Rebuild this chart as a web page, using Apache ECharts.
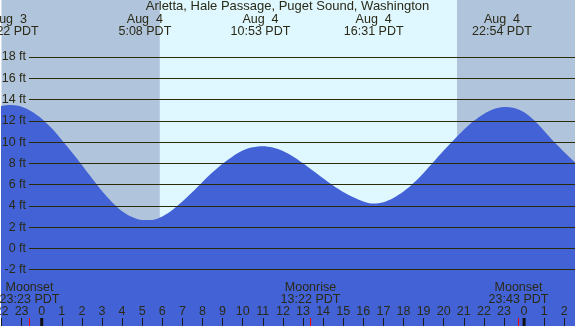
<!DOCTYPE html>
<html>
<head>
<meta charset="utf-8">
<script src="https://cdn.jsdelivr.net/npm/echarts@6/dist/echarts.min.js"></script>
<style>
  html, body { margin: 0; padding: 0; background: #fff; }
  #chart { width: 575px; height: 326px; }
</style>
</head>
<body>
<div id="chart"></div>
<script>
// hours counted from Aug 4 00:00 PDT, read every half hour
const tideTimes = [
  -2.5, -2, -1.5, -1, -0.5, 0, 0.5, 1, 1.5, 2, 2.5, 3, 3.5, 4, 4.5, 5, 5.5,
  6, 6.5, 7, 7.5, 8, 8.5, 9, 9.5, 10, 10.5, 11, 11.5, 12, 12.5, 13, 13.5,
  14, 14.5, 15, 15.5, 16, 16.5, 17, 17.5, 18, 18.5, 19, 19.5, 20, 20.5,
  21, 21.5, 22, 22.5, 23, 23.5, 24, 24.5, 25, 25.5, 26, 26.5, 27
]
const tideHeights = [
  13.1, 13.4, 13.48, 13.32, 12.88, 12.2, 11.3, 10.2, 9.05, 7.85, 6.6, 5.4, 4.35, 3.5, 2.95, 2.67, 2.68,
  3.0, 3.6, 4.4, 5.3, 6.25, 7.15, 7.95, 8.65, 9.2, 9.5, 9.6, 9.48, 9.15, 8.65, 8.0, 7.3,
  6.6, 5.92, 5.3, 4.8, 4.42, 4.22, 4.35, 4.75, 5.35, 6.15, 7.1, 8.15, 9.2, 10.2,
  11.15, 12.0, 12.65, 13.1, 13.3, 13.2, 12.8, 12.05, 11.05, 10.0, 9.05, 8.15, 7.3
]

const extremeTimes = [-1.633, 5.133, 10.883, 16.517, 22.9]
const extremeDates = ['Aug  3', 'Aug  4', 'Aug  4', 'Aug  4', 'Aug  4']
const extremeClock = ['22:22 PDT', '5:08 PDT', '10:53 PDT', '16:31 PDT', '22:54 PDT']

const moonTimes = [-0.617, 13.367, 23.717]
const moonEvents = ['Moonset', 'Moonrise', 'Moonset']
const moonClock = ['23:23 PDT', '13:22 PDT', '23:43 PDT']

const midnights = [0, 24]
const nightSpans = [[-2.2, 5.88], [20.66, 27]]
const daySpans = [[5.88, 20.66]]

const hourMin = -2
const hourMax = 27
const feetMin = -2
const feetMax = 18

const title = 'Arletta, Hale Passage, Puget Sound, Washington'

const textColor = '#2a2a16'
const lineColor = '#2b2b08'
const nightColor = '#b0c4dc'
const dayColor = '#dff7ff'
const waterColor = '#4262d6'
const family = '"Liberation Sans", Arial, sans-serif'
const font = '12.5px ' + family

const chart = echarts.init(document.getElementById('chart'))

function bottomOf (params) {
  return params.coordSys.y + params.coordSys.height
}

function renderMidnight (params, api) {
  const x = api.coord([api.value(0), 0])[0]
  const b = bottomOf(params)
  return { type: 'rect', shape: { x: x - 1.5, y: b - 8, width: 3, height: 8 }, style: { fill: '#111' } }
}

function renderMoon (params, api) {
  const x = Math.round(api.coord([api.value(0), 0])[0]) + 0.5
  const b = bottomOf(params)
  const i = api.value(1)
  return {
    type: 'group',
    children: [
      { type: 'line', shape: { x1: x, y1: b - 8, x2: x, y2: b }, style: { stroke: '#ff0000', lineWidth: 1 } },
      {
        type: 'text',
        x: x,
        y: 293.5,
        style: { text: moonEvents[i] + '\n' + moonClock[i], font: font, fill: textColor, align: 'center', verticalAlign: 'middle', lineHeight: 12 }
      }
    ]
  }
}

function renderExtreme (params, api) {
  const x = api.coord([api.value(0), 0])[0]
  const i = api.value(1)
  return {
    type: 'text',
    x: x,
    y: 25.5,
    style: { text: extremeDates[i] + '\n' + extremeClock[i], font: font, fill: textColor, align: 'center', verticalAlign: 'middle', lineHeight: 12.4 }
  }
}

const skyAreas = []
nightSpans.forEach(s => skyAreas.push([{ xAxis: s[0], itemStyle: { color: nightColor } }, { xAxis: s[1] }]))
daySpans.forEach(s => skyAreas.push([{ xAxis: s[0], itemStyle: { color: dayColor } }, { xAxis: s[1] }]))

chart.setOption({
  animation: false,
  title: {
    text: title,
    left: 'center',
    top: 0,
    padding: 0,
    textStyle: { fontSize: 13, fontWeight: 'normal', color: textColor, fontFamily: family }
  },
  grid: [
    { left: 1.5, top: 0, width: 582.9, bottom: 0, outerBoundsMode: 'none', containLabel: false },
    { left: 29, right: 0, top: 57, bottom: 56.3, outerBoundsMode: 'none', containLabel: false }
  ],
  xAxis: [
    {
      type: 'value',
      gridIndex: 0,
      min: hourMin,
      max: hourMax,
      interval: 1,
      position: 'bottom',
      z: 10,
      axisLine: { show: false, onZero: false },
      splitLine: { show: false },
      axisTick: { show: true, inside: true, length: 8, lineStyle: { color: '#1a1a1a', width: 1 } },
      axisLabel: {
        inside: true,
        margin: 8,
        fontSize: 12.5,
        color: textColor,
        fontFamily: family,
        formatter: v => String(((v % 24) + 24) % 24)
      }
    },
    { type: 'value', gridIndex: 1, min: hourMin, max: hourMax, show: false }
  ],
  yAxis: [
    { type: 'value', gridIndex: 0, min: -7.3, max: 23.36, show: false },
    {
      type: 'value',
      gridIndex: 1,
      min: feetMin,
      max: feetMax,
      interval: 2,
      z: 10,
      axisLine: { show: false },
      axisTick: { show: false },
      splitLine: { show: true, lineStyle: { color: lineColor, width: 1 } },
      axisLabel: {
        margin: 3,
        fontSize: 12.5,
        color: textColor,
        fontFamily: family,
        formatter: '{value} ft'
      }
    }
  ],
  series: [
    {
      name: 'sky',
      type: 'line',
      xAxisIndex: 0,
      yAxisIndex: 0,
      z: 1,
      clip: false,
      symbol: 'none',
      lineStyle: { opacity: 0 },
      data: [[hourMin, -7.3], [hourMax, -7.3]],
      markArea: { silent: true, data: skyAreas }
    },
    {
      name: 'tide',
      type: 'line',
      xAxisIndex: 0,
      yAxisIndex: 0,
      z: 2,
      clip: true,
      smooth: 0.3,
      symbol: 'none',
      lineStyle: { width: 0 },
      areaStyle: { color: waterColor, opacity: 1, origin: 'start' },
      data: tideTimes.map((t, i) => [t, tideHeights[i]])
    },
    {
      name: 'midnight',
      type: 'custom',
      xAxisIndex: 0,
      yAxisIndex: 0,
      z: 12,
      renderItem: renderMidnight,
      data: midnights.map(t => [t])
    },
    {
      name: 'moon',
      type: 'custom',
      xAxisIndex: 0,
      yAxisIndex: 0,
      z: 12,
      renderItem: renderMoon,
      data: moonTimes.map((t, i) => [t, i])
    },
    {
      name: 'extremes',
      type: 'custom',
      xAxisIndex: 0,
      yAxisIndex: 0,
      z: 12,
      renderItem: renderExtreme,
      data: extremeTimes.map((t, i) => [t, i])
    }
  ]
})
</script>
</body>
</html>
